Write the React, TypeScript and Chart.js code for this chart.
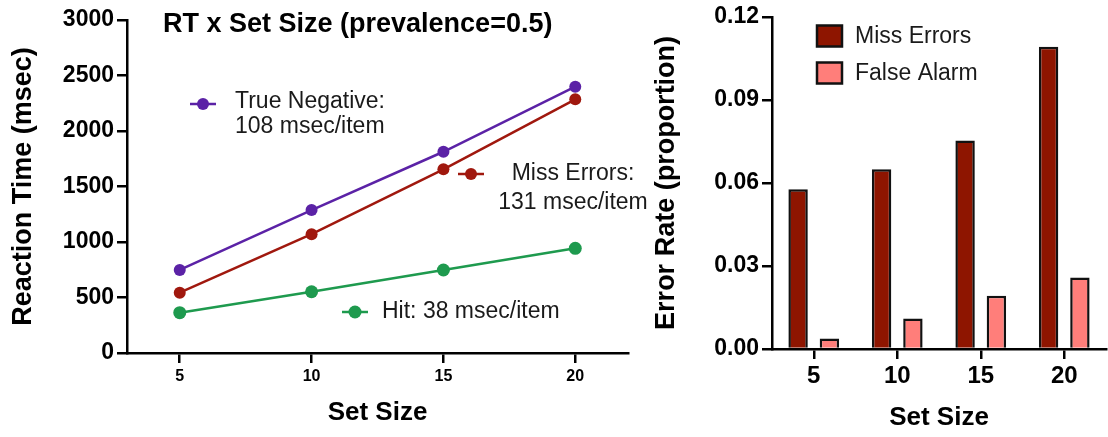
import React, { useEffect, useRef } from "react";
import { Chart, registerables } from "chart.js";

Chart.register(...registerables);

// ---- data ----
const setSizes = [5, 10, 15, 20];
const trueNegativeRT = [748, 1288, 1813, 2399];
const missErrorRT = [543, 1070, 1655, 2285];
const hitRT = [363, 552, 748, 943];
const rtTickValues = [0, 500, 1000, 1500, 2000, 2500, 3000];

const barCategories = ["5", "10", "15", "20"];
const missErrorRate = [0.0577, 0.0649, 0.0753, 0.1092];
const falseAlarmRate = [0.0038, 0.011, 0.0192, 0.0258];
const rateTickValues = [0, 0.03, 0.06, 0.09, 0.12];

const tnLabel = ["True Negative:", "108 msec/item"];
const missLabel = ["Miss Errors:", "131 msec/item"];
const hitLabel = ["Hit: 38 msec/item"];
const leftTitle = "RT x Set Size (prevalence=0.5)";

const FONT = "'Liberation Sans', Arial, Helvetica, sans-serif";
const PURPLE = "#5B22A6";
const RED = "#A0180E";
const GREEN = "#1E9A4E";
const BAR_DARK = "#8E1500";
const BAR_LIGHT = "#FF7E7A";

Chart.defaults.font.family = FONT;
Chart.defaults.color = "#000";

function drawKey(ctx: CanvasRenderingContext2D, cx: number, cy: number, color: string, r: number) {
  ctx.save();
  ctx.strokeStyle = color;
  ctx.lineWidth = 2.5;
  ctx.beginPath();
  ctx.moveTo(cx - 13, cy);
  ctx.lineTo(cx + 13, cy);
  ctx.stroke();
  ctx.fillStyle = color;
  ctx.beginPath();
  ctx.arc(cx, cy, r, 0, Math.PI * 2);
  ctx.fill();
  ctx.restore();
}

const leftAnnotations = {
  id: "leftAnnotations",
  afterDatasetsDraw(chart: any) {
    const ctx: CanvasRenderingContext2D = chart.ctx;
    ctx.save();
    ctx.fillStyle = "#000";
    ctx.font = `bold 27px ${FONT}`;
    ctx.textAlign = "left";
    ctx.textBaseline = "middle";
    ctx.fillText(leftTitle, 163, 25);

    ctx.font = `23px ${FONT}`;
    ctx.fillStyle = "#1a1a1a";
    drawKey(ctx, 203, 104, PURPLE, 6);
    ctx.fillText(tnLabel[0], 235, 102);
    ctx.fillText(tnLabel[1], 235, 127);

    drawKey(ctx, 471, 174, RED, 6);
    ctx.textAlign = "center";
    ctx.fillText(missLabel[0], 573, 174);
    ctx.fillText(missLabel[1], 573, 203);

    drawKey(ctx, 355, 312, GREEN, 6.5);
    ctx.textAlign = "left";
    ctx.fillText(hitLabel[0], 382, 312);
    ctx.restore();
  },
};

const rightLegend = {
  id: "rightLegend",
  afterDatasetsDraw(chart: any) {
    const ctx: CanvasRenderingContext2D = chart.ctx;
    const ds = chart.data.datasets;
    ctx.save();
    ctx.font = `23px ${FONT}`;
    ctx.textAlign = "left";
    ctx.textBaseline = "middle";
    const rows = [36, 73];
    ds.forEach((d: any, i: number) => {
      const cy = rows[i];
      ctx.fillStyle = d.backgroundColor;
      ctx.fillRect(177, cy - 10.5, 25, 21);
      ctx.strokeStyle = "#111";
      ctx.lineWidth = 2.5;
      ctx.strokeRect(177, cy - 10.5, 25, 21);
      ctx.fillStyle = "#1a1a1a";
      ctx.fillText(d.label, 215, cy + 1);
    });
    ctx.restore();
  },
};

function LeftChart() {
  const ref = useRef<HTMLCanvasElement>(null);
  useEffect(() => {
    const mk = (label: string, vals: number[], color: string, r: number) => ({
      label,
      data: setSizes.map((x, i) => ({ x, y: vals[i] })),
      borderColor: color,
      backgroundColor: color,
      borderWidth: 2.5,
      pointRadius: r,
      pointHoverRadius: r,
      pointBorderWidth: 0,
      tension: 0,
    });
    const chart = new Chart(ref.current!, {
      type: "line",
      data: {
        datasets: [
          mk("True Negative", trueNegativeRT, PURPLE, 6),
          mk("Miss Errors", missErrorRT, RED, 6),
          mk("Hit", hitRT, GREEN, 6.5),
        ],
      },
      options: {
        animation: false,
        responsive: false,
        events: [],
        layout: { padding: { top: 20, right: 32, left: 0, bottom: 0 } },
        plugins: { legend: { display: false }, tooltip: { enabled: false } },
        scales: {
          x: {
            type: "linear",
            min: 3,
            max: 22,
            z: 1,
            afterBuildTicks: (s: any) => {
              s.ticks = setSizes.map((v) => ({ value: v }));
            },
            afterFit: (s: any) => {
              s.height = 84;
            },
            border: { display: true, color: "#000", width: 2.5 },
            grid: { drawOnChartArea: false, drawTicks: true, tickLength: 10, color: "#000", lineWidth: 2.5 },
            ticks: {
              font: { size: 16, weight: "bold" },
              color: "#000",
              padding: 4,
              maxRotation: 0,
              callback: (v: any) => String(v),
            },
            title: {
              display: true,
              text: "Set Size",
              font: { size: 26, weight: "bold" },
              color: "#000",
              padding: { top: 0, bottom: 9 },
            },
          },
          y: {
            type: "linear",
            min: 0,
            max: 3000,
            z: 1,
            afterBuildTicks: (s: any) => {
              s.ticks = rtTickValues.map((v) => ({ value: v }));
            },
            afterFit: (s: any) => {
              s.width = 127;
            },
            border: { display: true, color: "#000", width: 2.5 },
            grid: { drawOnChartArea: false, drawTicks: true, tickLength: 10, color: "#000", lineWidth: 2.5 },
            ticks: {
              font: { size: 23, weight: "bold" },
              color: "#000",
              padding: 3,
              callback: (v: any) => String(v),
            },
            title: {
              display: true,
              text: "Reaction Time (msec)",
              font: { size: 27, weight: "bold" },
              color: "#000",
              padding: { top: 7, bottom: 0 },
            },
          },
        },
      },
      plugins: [leftAnnotations],
    } as any);
    return () => chart.destroy();
  }, []);
  return <canvas ref={ref} width={660} height={437} style={{ position: "absolute", left: 0, top: 0, zIndex: 2 }} />;
}

function RightChart() {
  const ref = useRef<HTMLCanvasElement>(null);
  useEffect(() => {
    const chart = new Chart(ref.current!, {
      type: "bar",
      data: {
        labels: barCategories,
        datasets: [
          {
            label: "Miss Errors",
            data: missErrorRate,
            backgroundColor: BAR_DARK,
            borderColor: "#111",
            borderWidth: 2.5,
            borderSkipped: "start",
            categoryPercentage: 0.75,
            barPercentage: 0.62,
          },
          {
            label: "False Alarm",
            data: falseAlarmRate,
            backgroundColor: BAR_LIGHT,
            borderColor: "#111",
            borderWidth: 2.5,
            borderSkipped: "start",
            categoryPercentage: 0.75,
            barPercentage: 0.62,
          },
        ],
      },
      options: {
        animation: false,
        responsive: false,
        events: [],
        layout: { padding: { top: 15, right: 2, left: 0, bottom: 0 } },
        plugins: { legend: { display: false }, tooltip: { enabled: false } },
        scales: {
          x: {
            type: "category",
            z: 1,
            afterFit: (s: any) => {
              s.height = 88;
            },
            border: { display: true, color: "#000", width: 2.5 },
            grid: { offset: false, drawOnChartArea: false, drawTicks: true, tickLength: 10, color: "#000", lineWidth: 2.5 },
            ticks: { font: { size: 24, weight: "bold" }, color: "#000", padding: 3, maxRotation: 0 },
            title: {
              display: true,
              text: "Set Size",
              font: { size: 26, weight: "bold" },
              color: "#000",
              padding: { top: 0, bottom: 4 },
            },
          },
          y: {
            type: "linear",
            min: 0,
            max: 0.12,
            z: 1,
            afterBuildTicks: (s: any) => {
              s.ticks = rateTickValues.map((v) => ({ value: v }));
            },
            afterFit: (s: any) => {
              s.width = 132;
            },
            border: { display: true, color: "#000", width: 2.5 },
            grid: { drawOnChartArea: false, drawTicks: true, tickLength: 10, color: "#000", lineWidth: 2.5 },
            ticks: {
              font: { size: 23, weight: "bold" },
              color: "#000",
              padding: 3,
              callback: (v: any) => Number(v).toFixed(2),
            },
            title: {
              display: true,
              text: "Error Rate (proportion)",
              font: { size: 27, weight: "bold" },
              color: "#000",
              padding: { top: 10, bottom: 0 },
            },
          },
        },
      },
      plugins: [rightLegend],
    } as any);
    return () => chart.destroy();
  }, []);
  return <canvas ref={ref} width={468} height={437} style={{ position: "absolute", left: 640, top: 0, zIndex: 1 }} />;
}

export default function App() {
  return (
    <div style={{ position: "fixed", left: 0, top: 0, width: 1108, height: 437, background: "#fff", overflow: "hidden" }}>
      <RightChart />
      <LeftChart />
    </div>
  );
}
